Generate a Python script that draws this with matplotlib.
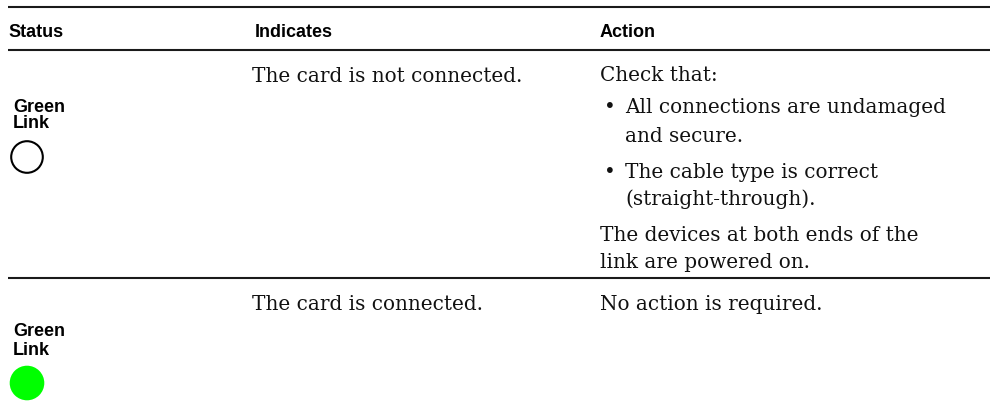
import matplotlib
matplotlib.use("Agg")
import matplotlib.pyplot as plt
from matplotlib.patches import Circle

# ---- table content ----
headers = ["Status", "Indicates", "Action"]
status_labels = [["Green", "Link"], ["Green", "Link"]]
led_fill = ["none", "#00ff00"]
led_edge = ["black", "#00ff00"]
indicates = ["The card is not connected.", "The card is connected."]
# (kind, text) : kind = 'p' plain paragraph line, 'b' bullet first line, 'c' bullet continuation
actions = [
    [("p", "Check that:"),
     ("b", "All connections are undamaged"),
     ("c", "and secure."),
     ("b", "The cable type is correct"),
     ("c", "(straight-through)."),
     ("p", "The devices at both ends of the"),
     ("p", "link are powered on.")],
    [("p", "No action is required.")],
]

# ---- layout (pixels) ----
W, H = 990, 406
fig = plt.figure(figsize=(W / 100, H / 100), dpi=100)
ax = fig.add_axes([0, 0, 1, 1])
ax.set_xlim(0, W)
ax.set_ylim(H, 0)
ax.axis("off")

sans = "Liberation Sans"
serif = "DejaVu Serif"
hsize = 13
bsize = 14.4
line_col = "#1a1a1a"
txt_col = "#111111"

col_x = [8, 255, 600]
header_base = 37
rule_ys = [8, 51, 279]
for y in rule_ys:
    ax.plot([8, W], [y, y], color=line_col, lw=1.5, solid_capstyle="butt")

for x, h in zip(col_x, headers):
    ax.text(x, header_base, h, fontfamily=sans, fontweight="bold",
            fontsize=hsize, va="baseline", ha="left", color="black")

row_top = [51, 279]
action_offsets = [
    [30, 62, 91, 127, 154, 190, 217],
    [31],
]
for r in range(2):
    top = row_top[r]
    # status label
    g_base = [61, 77] if r == 0 else [57, 76]
    for lbl, dy in zip(status_labels[r], g_base):
        ax.text(13, top + dy, lbl, fontfamily=sans, fontweight="bold",
                fontsize=hsize, va="baseline", ha="left", color="black")
    cy = top + (107 if r == 0 else 105)
    if led_fill[r] == "none":
        ax.add_patch(Circle((27, cy), 15.8, facecolor="none",
                            edgecolor=led_edge[r], lw=1.5))
    else:
        ax.add_patch(Circle((27, cy), 17.3, facecolor=led_fill[r],
                            edgecolor="none"))
    # indicates
    ax.text(252, top + 31, indicates[r], fontfamily=serif, fontsize=bsize,
            va="baseline", ha="left", color=txt_col)
    # actions
    for (kind, txt), dy in zip(actions[r], action_offsets[r]):
        y = top + dy
        if kind == "p":
            ax.text(600, y, txt, fontfamily=serif, fontsize=bsize,
                    va="baseline", ha="left", color=txt_col)
        else:
            if kind == "b":
                ax.text(604, y, "\u2022", fontfamily=serif, fontsize=bsize,
                        va="baseline", ha="left", color=txt_col)
            ax.text(625, y, txt, fontfamily=serif, fontsize=bsize,
                    va="baseline", ha="left", color=txt_col)

fig.savefig("out.png", dpi=100, facecolor="white")
